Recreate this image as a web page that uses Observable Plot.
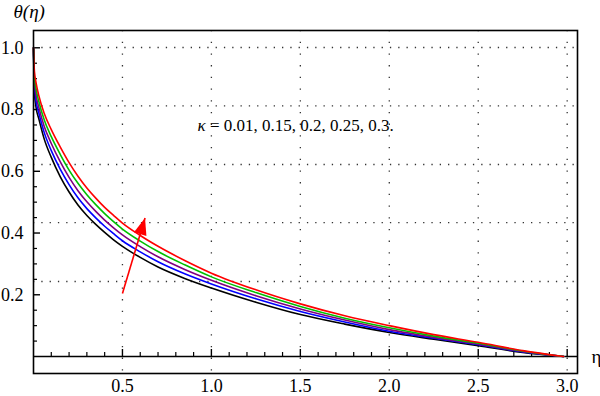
<!DOCTYPE html>
<html><head><meta charset="utf-8">
<script src="https://cdn.jsdelivr.net/npm/d3@7"></script>
<script src="https://cdn.jsdelivr.net/npm/@observablehq/plot@0.6"></script>
<style>
body{margin:0;background:#fff}
#chart svg{display:block}
#chart svg, #chart svg text{font-family:"Liberation Serif","DejaVu Serif",serif !important}
</style>
</head><body><div id="chart"></div>
<script>
// ---- data ----
const eta = [0,0.005,0.015,0.03,0.06,0.1,0.15,0.2,0.25,0.3,0.35,0.4,0.45,0.5,0.6,0.7,0.85,1.0,1.25,1.5,1.75,2.0,2.25,2.5,2.75,2.98];
const kappaValues = [0.01, 0.15, 0.2, 0.25, 0.3];
const kappaColors = ["#000000", "#0000ff", "#800080", "#00c000", "#ff0000"];
const thetaK001 = [1,0.860,0.805,0.770,0.705,0.645,0.583,0.533,0.491,0.457,0.428,0.402,0.378,0.357,0.321,0.290,0.253,0.222,0.176,0.136,0.105,0.078,0.056,0.035,0.013,0];
const thetaK015 = [1,0.876,0.825,0.789,0.726,0.667,0.607,0.557,0.514,0.479,0.449,0.422,0.398,0.375,0.339,0.307,0.268,0.235,0.187,0.146,0.112,0.082,0.059,0.038,0.015,0];
const thetaK020 = [1,0.892,0.845,0.807,0.746,0.690,0.631,0.580,0.537,0.501,0.470,0.442,0.417,0.394,0.356,0.323,0.282,0.247,0.197,0.154,0.118,0.087,0.062,0.040,0.016,0];
const thetaK025 = [1,0.909,0.865,0.826,0.767,0.712,0.655,0.604,0.561,0.524,0.492,0.463,0.437,0.413,0.374,0.340,0.297,0.258,0.207,0.162,0.124,0.093,0.066,0.043,0.018,0];
const thetaK030 = [1,0.925,0.885,0.845,0.788,0.735,0.679,0.628,0.584,0.546,0.513,0.483,0.457,0.432,0.392,0.357,0.311,0.270,0.216,0.1705,0.132,0.100,0.071,0.046,0.019,0];
const xMajorTicks = [0.5, 1.0, 1.5, 2.0, 2.5, 3.0];
const yMajorTicks = [0.2, 0.4, 0.6, 0.8, 1.0];
const xGrid = [0.5, 1.0, 1.5, 2.0, 2.5, 3.0];
const yGrid = [0.243, 0.434, 0.622, 0.812, 1.001];
const yAxisLabel = "θ(η)";
const xAxisLabel = "η";
const annotKappa = "κ";
const annotText = "= 0.01, 0.15, 0.2, 0.25, 0.3.";

// ---- layout ----
const W = 600, H = 396;
const mL = 33, mR = 23, mT = 30, mB = 23;
const xDom = [0, 3.058], yDom = [-0.055, 1.056];
const pxX = (W - mL - mR) / (xDom[1] - xDom[0]);
const pxY = (H - mT - mB) / (yDom[1] - yDom[0]);
const FONT = "Liberation Serif";

const xMinorTicks = d3.range(1, 31).map(i => i / 10).filter(v => !xMajorTicks.some(m => Math.abs(m - v) < 1e-9));
const yMinorTicks = d3.range(1, 21).map(i => i / 20).filter(v => !yMajorTicks.some(m => Math.abs(m - v) < 1e-9));

const series = [thetaK001, thetaK015, thetaK020, thetaK025, thetaK030];
const rows = [];
series.forEach((arr, k) => arr.forEach((t, i) => rows.push({eta: eta[i], theta: t, k: String(kappaValues[k])})));

// arrow: tail and tip
const arrow = [{x1: 0.5, y1: 0.204, x2: 0.627, y2: 0.449}];
const angle = Math.atan2((arrow[0].x2 - arrow[0].x1) * pxX, (arrow[0].y2 - arrow[0].y1) * pxY) * 180 / Math.PI;
const headSymbol = {draw(ctx) { ctx.moveTo(0, 0); ctx.lineTo(6.5, 17); ctx.lineTo(-6.5, 17); ctx.closePath(); }};

const gridColor = "#333";
const chart = Plot.plot({
  width: W, height: H,
  marginLeft: mL, marginRight: mR, marginTop: mT, marginBottom: mB,
  style: {fontFamily: FONT, fontSize: "18px", background: "#fff"},
  x: {domain: xDom},
  y: {domain: yDom},
  color: {domain: kappaValues.map(String), range: kappaColors},
  marks: [
    Plot.ruleX(xGrid, {stroke: gridColor, strokeWidth: 1.3, strokeDasharray: "1.3 10.4"}),
    Plot.ruleY(yGrid, {stroke: gridColor, strokeWidth: 1.3, strokeDasharray: "1.3 7"}),
    Plot.ruleY([0], {stroke: "black", strokeWidth: 1.5}),
    Plot.ruleX(xMinorTicks, {x: d => d, y1: 0, y2: 4 / pxY, stroke: "black", strokeWidth: 1.2}),
    Plot.ruleX(xMajorTicks, {x: d => d, y1: 0, y2: 7 / pxY, stroke: "black", strokeWidth: 1.4}),
    Plot.ruleY(yMinorTicks, {y: d => d, x1: 0, x2: 4 / pxX, stroke: "black", strokeWidth: 1.2}),
    Plot.ruleY(yMajorTicks, {y: d => d, x1: 0, x2: 7 / pxX, stroke: "black", strokeWidth: 1.4}),
    Plot.line(rows, {x: "eta", y: "theta", z: "k", stroke: "k", strokeWidth: 1.6, curve: "monotone-x"}),
    Plot.link(arrow, {x1: "x1", y1: "y1", x2: "x2", y2: "y2", stroke: "#ff0000", strokeWidth: 1.6}),
    Plot.dot(arrow, {x: "x2", y: "y2", symbol: headSymbol, r: 5, fill: "#ff0000", stroke: "none", rotate: angle}),
    Plot.text([annotKappa], {x: 0.922, y: 0.729, text: d => d, textAnchor: "start", lineAnchor: "bottom", fontStyle: "italic", fontSize: 17, fontFamily: FONT}),
    Plot.text([annotText], {x: 0.922, y: 0.729, text: d => d, textAnchor: "start", lineAnchor: "bottom", dx: 12.5, fontSize: 17, fontFamily: FONT}),
    Plot.text([yAxisLabel], {frameAnchor: "top-left", text: d => d, textAnchor: "start", lineAnchor: "bottom", dx: -20, dy: -13, fontStyle: "italic", fontSize: 19, fontFamily: FONT}),
    Plot.text([xAxisLabel], {y: () => 0, frameAnchor: "right", text: d => d, textAnchor: "start", dx: 14, fontSize: 19, fontFamily: FONT}),
    Plot.frame({stroke: "black", strokeWidth: 1.6}),
    Plot.axisX(xMajorTicks, {tickSize: 0, tickPadding: 6, tickFormat: d => d.toFixed(1), fontSize: 18, fontFamily: FONT, label: null}),
    Plot.axisY(yMajorTicks, {tickSize: 0, tickPadding: 10, tickFormat: d => d.toFixed(1), fontSize: 18, fontFamily: FONT, label: null})
  ]
});
document.getElementById("chart").appendChild(chart);
</script>
</body></html>
